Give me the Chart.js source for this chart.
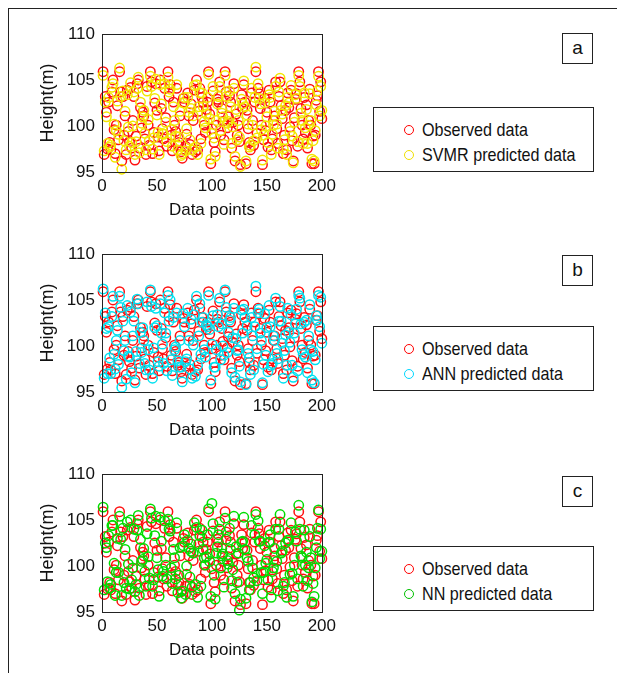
<!DOCTYPE html>
<html>
<head>
<meta charset="utf-8">
<script src="https://cdn.jsdelivr.net/npm/chart.js@4.4.1/dist/chart.umd.min.js"></script>
<style>
  body { margin: 0; width: 617px; height: 673px; background: #fff; position: relative; overflow: hidden;
         font-family: "Liberation Sans", Arial, sans-serif; color: #111; }
  .frame { position: absolute; left: 8px; top: 8px; width: 620px; height: 680px; border-left: 1px solid #222; border-top: 1px solid #222; }
  canvas { position: absolute; left: 0; }
  .legend { position: absolute; left: 373px; width: 221px; height: 65px; border: 1px solid #222; box-sizing: border-box; font-size: 19px; background: #fff; }
  .legend .row { position: absolute; left: 48px; height: 22px; line-height: 22px; white-space: nowrap;
                 transform: scaleX(0.85); transform-origin: 0 50%; }
  .legend .dot { position: absolute; left: 30px; width: 8px; height: 8px; border-radius: 50%; border: 1.5px solid; }
  .tag { position: absolute; left: 562px; width: 31px; height: 31px; border: 1px solid #222; box-sizing: border-box;
         text-align: center; line-height: 28px; font-size: 19px; background: #fff; }
</style>
</head>
<body>
<div class="frame"></div>

<canvas id="chartA" width="340" height="232" style="top:0px"></canvas>
<canvas id="chartB" width="340" height="232" style="top:220px"></canvas>
<canvas id="chartC" width="340" height="232" style="top:440px"></canvas>

<div class="tag" style="top:33px">a</div>
<div class="legend" style="top:107px">
  <span class="dot" style="top:17px;border-color:#ff0000"></span><span class="row" style="top:11px">Observed data</span>
  <span class="dot" style="top:42px;border-color:#f0e000"></span><span class="row" style="top:36px">SVMR predicted data</span>
</div>

<div class="tag" style="top:255px">b</div>
<div class="legend" style="top:326px">
  <span class="dot" style="top:17px;border-color:#ff0000"></span><span class="row" style="top:11px">Observed data</span>
  <span class="dot" style="top:42px;border-color:#00d8ff"></span><span class="row" style="top:36px">ANN predicted data</span>
</div>

<div class="tag" style="top:476px">c</div>
<div class="legend" style="top:546px">
  <span class="dot" style="top:17px;border-color:#ff0000"></span><span class="row" style="top:11px">Observed data</span>
  <span class="dot" style="top:42px;border-color:#00c000"></span><span class="row" style="top:36px">NN predicted data</span>
</div>

<script>
const yTicks = [95, 100, 105, 110];
const xTicks = [0, 50, 100, 150, 200];

const observed = [
  105.9, 96.9, 103.2, 101.5, 97.5, 102.6, 98.2, 97.4, 103.7, 105.0,
  99.6, 97.0, 100.1, 102.2, 98.5, 105.9, 103.7, 96.2, 103.2, 99.0,
  101.1, 96.9, 103.9, 99.4, 98.3, 104.2, 97.6, 100.6, 103.2, 96.3,
  98.9, 104.6, 105.0, 97.6, 102.0, 99.8, 101.5, 101.1, 98.6, 96.9,
  104.3, 100.1, 97.9, 105.9, 104.8, 97.0, 99.3, 102.5, 104.6, 101.7,
  98.8, 97.3, 105.0, 101.9, 99.7, 98.6, 104.1, 100.9, 97.8, 105.9,
  103.2, 104.5, 99.0, 97.3, 102.6, 100.1, 99.4, 104.1, 97.9, 98.2,
  101.1, 97.2, 96.5, 103.0, 102.6, 97.8, 99.1, 103.6, 101.1, 98.0,
  102.4, 96.9, 100.6, 103.9, 97.2, 105.0, 97.4, 101.6, 104.1, 98.6,
  103.1, 102.6, 100.1, 99.3, 101.8, 102.6, 105.9, 101.3, 95.9, 99.7,
  103.8, 98.2, 97.2, 100.1, 102.9, 102.6, 104.8, 99.0, 101.9, 100.5,
  98.5, 105.9, 103.7, 99.8, 101.0, 103.3, 102.6, 97.6, 100.4, 104.6,
  96.2, 101.3, 99.0, 100.1, 98.3, 95.8, 103.4, 101.9, 104.5, 102.6,
  95.9, 101.7, 99.7, 98.2, 97.4, 103.6, 100.6, 97.9, 102.6, 105.9,
  99.2, 104.1, 103.5, 101.9, 100.1, 95.8, 98.5, 103.0, 99.5, 101.5,
  97.7, 103.9, 102.6, 97.4, 98.6, 100.6, 101.1, 104.8, 99.7, 98.1,
  103.2, 104.8, 102.2, 100.8, 97.0, 99.0, 101.7, 97.4, 103.6, 102.0,
  99.9, 103.9, 98.4, 96.2, 100.9, 102.9, 103.5, 97.8, 105.9, 104.8,
  101.9, 100.1, 98.6, 103.1, 99.3, 102.3, 97.6, 100.6, 104.0, 100.1,
  95.9, 98.9, 95.9, 99.0, 102.8, 103.3, 105.9, 101.6, 104.8, 100.8
];

const svmrPredicted = [
  105.5, 97.3, 102.6, 101.0, 98.1, 103.1, 97.7, 97.9, 104.2, 104.6,
  100.2, 96.6, 99.5, 102.7, 99.1, 106.3, 103.2, 95.3, 103.8, 98.4,
  101.6, 97.4, 103.4, 99.9, 97.8, 104.7, 98.2, 100.0, 103.7, 96.9,
  98.3, 104.1, 105.3, 97.1, 102.6, 100.3, 101.0, 101.7, 99.2, 97.4,
  103.8, 100.7, 98.4, 105.4, 104.3, 97.5, 98.7, 103.0, 105.1, 101.2,
  99.3, 96.9, 104.5, 102.4, 99.2, 99.1, 104.6, 100.4, 98.3, 105.3,
  103.7, 104.0, 99.6, 97.8, 102.1, 100.6, 98.9, 104.5, 97.4, 98.8,
  101.6, 96.8, 97.0, 102.5, 103.1, 97.3, 99.7, 103.1, 101.5, 98.5,
  101.9, 97.4, 101.1, 104.4, 97.7, 104.5, 96.9, 102.1, 103.6, 98.1,
  103.6, 102.1, 100.5, 99.8, 101.3, 103.1, 105.6, 100.8, 96.4, 99.2,
  104.3, 98.7, 96.7, 100.6, 102.4, 103.2, 104.3, 99.5, 101.4, 101.0,
  98.0, 105.5, 103.2, 100.3, 100.5, 103.8, 102.1, 98.1, 99.9, 104.1,
  96.7, 101.8, 98.5, 100.6, 98.8, 95.6, 102.9, 102.4, 104.9, 102.1,
  96.2, 101.2, 100.2, 97.7, 97.9, 104.1, 100.1, 98.4, 103.1, 106.4,
  98.7, 104.6, 103.0, 102.4, 99.6, 96.3, 99.0, 102.5, 100.0, 101.0,
  98.2, 103.4, 103.1, 96.9, 99.1, 100.1, 101.6, 104.3, 100.2, 97.6,
  103.7, 105.2, 101.7, 101.3, 97.5, 98.5, 102.2, 96.9, 103.1, 102.5,
  99.4, 104.4, 98.9, 96.0, 100.4, 103.4, 103.0, 98.3, 105.5, 104.3,
  101.4, 100.6, 98.1, 103.6, 99.8, 101.8, 98.1, 100.1, 103.5, 100.6,
  96.4, 98.4, 96.2, 99.5, 102.3, 103.8, 105.4, 101.1, 104.3, 101.7
];

const annPredicted = [
  106.2, 96.5, 103.6, 101.9, 97.0, 102.1, 98.7, 97.0, 103.2, 105.4,
  99.1, 97.5, 100.6, 101.7, 98.0, 105.4, 104.2, 95.5, 102.7, 99.5,
  100.6, 96.4, 104.4, 98.9, 98.8, 103.7, 97.1, 101.1, 102.7, 96.0,
  99.4, 105.1, 104.6, 98.1, 101.5, 99.3, 102.0, 100.6, 98.1, 97.4,
  104.8, 99.6, 97.4, 106.1, 104.3, 96.5, 99.8, 102.0, 104.1, 102.2,
  98.3, 97.8, 104.6, 101.4, 100.2, 98.1, 103.6, 101.4, 97.3, 105.5,
  102.7, 105.0, 98.5, 96.8, 103.1, 99.6, 99.9, 103.6, 98.4, 97.7,
  100.6, 97.7, 96.1, 103.5, 102.1, 98.3, 98.6, 104.1, 100.6, 97.5,
  102.9, 96.5, 100.1, 103.4, 96.7, 105.4, 97.9, 101.1, 104.6, 99.1,
  102.6, 103.1, 99.6, 98.8, 102.3, 102.1, 105.5, 101.8, 96.3, 100.2,
  103.3, 97.7, 97.7, 99.6, 103.4, 102.1, 105.2, 98.5, 102.4, 100.0,
  99.0, 106.1, 104.2, 99.3, 101.5, 102.8, 103.1, 97.1, 100.9, 104.1,
  96.6, 100.8, 99.5, 99.6, 97.8, 96.1, 103.9, 101.4, 104.0, 103.1,
  95.8, 102.2, 99.2, 98.7, 96.9, 103.1, 101.1, 97.4, 102.1, 106.5,
  99.7, 103.6, 104.0, 101.4, 100.6, 96.0, 98.0, 103.5, 99.0, 102.0,
  97.2, 104.4, 102.1, 97.9, 98.1, 101.1, 100.6, 105.2, 99.2, 98.6,
  102.7, 104.3, 102.7, 100.3, 96.5, 99.5, 101.2, 97.9, 104.1, 101.5,
  100.4, 103.4, 97.9, 96.6, 101.4, 102.4, 104.0, 97.3, 105.5, 105.2,
  102.4, 99.6, 99.1, 102.6, 98.8, 102.8, 97.1, 101.1, 104.5, 99.6,
  96.3, 99.4, 96.0, 98.5, 103.3, 102.8, 105.5, 102.1, 105.3, 100.3
];

const nnPredicted = [
  106.4, 97.4, 102.5, 102.0, 98.3, 103.3, 97.6, 98.0, 104.4, 104.4,
  100.3, 96.8, 99.3, 103.0, 99.3, 105.4, 102.9, 96.8, 104.1, 98.2,
  101.8, 97.6, 104.8, 100.2, 97.5, 105.0, 98.5, 99.8, 104.0, 97.2,
  98.0, 103.9, 105.5, 96.8, 102.9, 100.5, 100.7, 101.9, 99.4, 97.8,
  103.5, 101.0, 98.7, 106.2, 105.2, 97.8, 98.5, 103.3, 105.4, 100.9,
  99.6, 96.7, 105.3, 102.7, 98.9, 99.4, 104.9, 100.1, 98.6, 105.1,
  104.0, 103.8, 99.8, 98.1, 101.8, 100.9, 98.6, 104.7, 97.1, 99.0,
  102.0, 96.5, 97.3, 102.2, 103.4, 96.9, 100.0, 102.8, 101.9, 98.8,
  101.6, 97.7, 101.4, 104.7, 98.0, 104.2, 96.6, 102.4, 103.3, 97.8,
  103.9, 101.8, 100.9, 100.1, 101.0, 103.4, 106.2, 100.5, 96.7, 106.8,
  104.6, 99.0, 96.4, 101.4, 102.1, 103.4, 104.0, 99.8, 101.1, 101.3,
  97.7, 105.2, 102.9, 100.6, 100.2, 104.1, 101.8, 98.4, 99.6, 105.4,
  97.0, 102.1, 98.2, 101.4, 95.2, 96.4, 102.6, 102.7, 105.3, 101.8,
  96.5, 100.9, 100.5, 97.4, 98.2, 104.4, 99.8, 98.7, 103.4, 105.6,
  98.4, 104.9, 102.7, 102.7, 99.3, 97.0, 99.3, 102.2, 100.3, 100.7,
  98.5, 102.6, 103.4, 96.6, 99.4, 99.8, 101.9, 104.0, 100.5, 97.3,
  104.0, 105.6, 101.4, 101.6, 97.8, 98.2, 102.5, 96.6, 102.8, 102.8,
  99.1, 104.7, 99.2, 96.7, 100.1, 103.7, 102.7, 98.6, 106.6, 104.0,
  101.1, 100.9, 97.8, 103.9, 100.1, 101.5, 98.4, 99.8, 103.2, 100.9,
  96.1, 98.1, 96.7, 99.8, 102.0, 104.1, 106.1, 100.8, 104.0, 101.6
];

const FONT = '"Liberation Sans", Arial, sans-serif';

// black box round the plot area, like the matlab axes
const boxPlugin = {
  id: 'box',
  afterDraw(chart) {
    const { ctx, chartArea: a } = chart;
    ctx.save();
    ctx.strokeStyle = '#222';
    ctx.lineWidth = 1;
    ctx.strokeRect(Math.round(a.left) + 0.5, Math.round(a.top) + 0.5,
      Math.round(a.right - a.left), Math.round(a.bottom - a.top));
    ctx.restore();
  }
};

function toPoints(values) {
  return values.map((v, i) => ({ x: i + 1, y: v }));
}

function makePanel(id, predicted, predColor) {
  const ctx = document.getElementById(id).getContext('2d');
  return new Chart(ctx, {
    type: 'scatter',
    data: {
      datasets: [
        {
          label: 'Observed data',
          data: toPoints(observed),
          borderColor: '#ff1010',
          backgroundColor: 'rgba(0,0,0,0)',
          pointRadius: 4.7,
          borderWidth: 1.5,
          clip: false,
          order: 2
        },
        {
          label: 'Predicted data',
          data: toPoints(predicted),
          borderColor: predColor,
          backgroundColor: 'rgba(0,0,0,0)',
          pointRadius: 4.7,
          borderWidth: 1.5,
          clip: false,
          order: 1
        }
      ]
    },
    options: {
      responsive: false,
      animation: false,
      events: [],
      layout: { padding: { top: 34, right: 18, left: 0, bottom: 0 } },
      plugins: { legend: { display: false }, tooltip: { enabled: false } },
      scales: {
        x: {
          type: 'linear',
          min: 0,
          max: 200,
          afterBuildTicks: (s) => { s.ticks = xTicks.map(v => ({ value: v })); },
          afterFit: (s) => { s.height = 60; },
          grid: { display: false, drawTicks: false },
          border: { display: false },
          ticks: { color: '#111', font: { family: FONT, size: 17 }, padding: 4, maxRotation: 0 },
          title: { display: true, text: 'Data points', color: '#111', font: { family: FONT, size: 17 }, padding: { top: 0, bottom: 11 } }
        },
        y: {
          min: 95,
          max: 110,
          afterBuildTicks: (s) => { s.ticks = yTicks.map(v => ({ value: v })); },
          afterFit: (s) => { s.width = 102; },
          grid: { display: false, drawTicks: false },
          border: { display: false },
          ticks: { color: '#111', font: { family: FONT, size: 17 }, padding: 7 },
          title: { display: true, text: 'Height(m)', color: '#111', font: { family: FONT, size: 18 }, padding: { top: 37, bottom: 0 } }
        }
      }
    },
    plugins: [boxPlugin]
  });
}

makePanel('chartA', svmrPredicted, '#f2e600');
makePanel('chartB', annPredicted, '#00e0f0');
makePanel('chartC', nnPredicted, '#00dd00');
</script>
</body>
</html>
